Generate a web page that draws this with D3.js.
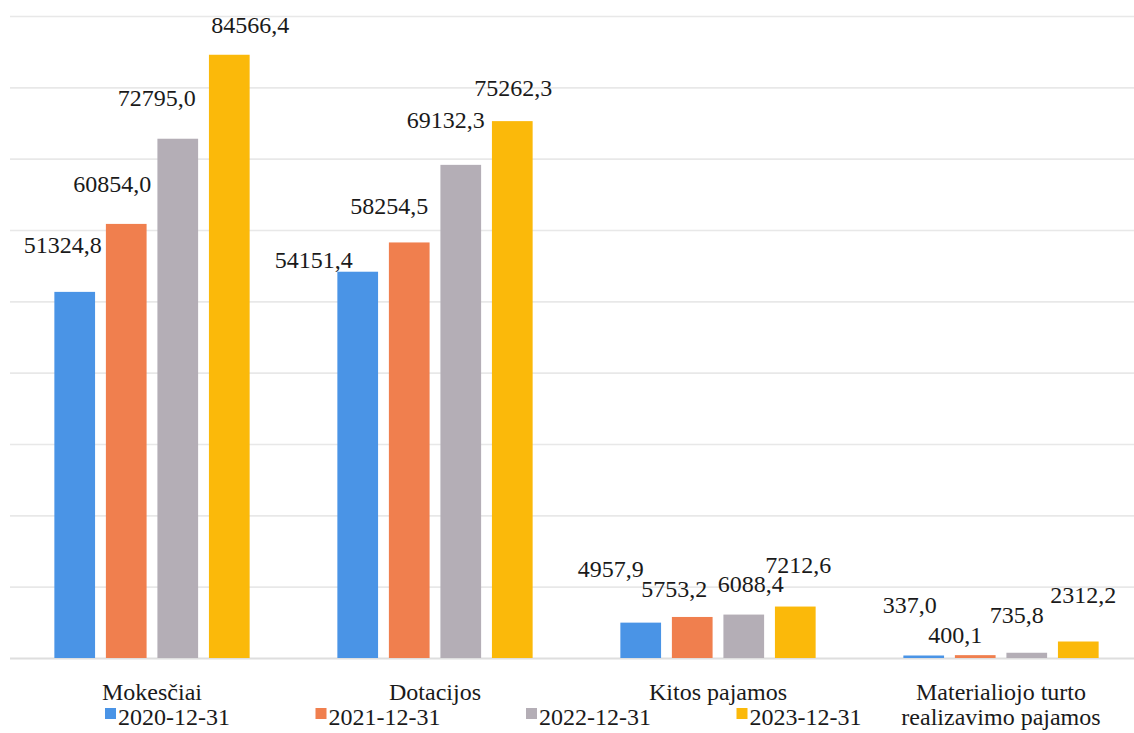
<!DOCTYPE html>
<html>
<head>
<meta charset="utf-8">
<script src="https://cdn.jsdelivr.net/npm/d3@7"></script>
<style>
  html, body { margin: 0; padding: 0; background: #ffffff; }
  svg { display: block; }
</style>
</head>
<body>
<svg id="chart" width="1134" height="733"></svg>
<script>
// ---- data ----
const categories = ["Mokesčiai", "Dotacijos", "Kitos pajamos", "Materialiojo turto realizavimo pajamos"];
const categoryLabels = [["Mokesčiai"], ["Dotacijos"], ["Kitos pajamos"], ["Materialiojo turto", "realizavimo pajamos"]];
const seriesNames = ["2020-12-31", "2021-12-31", "2022-12-31", "2023-12-31"];
const s2020 = [51324.8, 54151.4, 4957.9, 337.0];
const s2021 = [60854.0, 58254.5, 5753.2, 400.1];
const s2022 = [72795.0, 69132.3, 6088.4, 735.8];
const s2023 = [84566.4, 75262.3, 7212.6, 2312.2];
const seriesValues = [s2020, s2021, s2022, s2023];
const yTicks = [0, 10000, 20000, 30000, 40000, 50000, 60000, 70000, 80000, 90000];

// ---- style / layout ----
const FONT = "'Liberation Serif', 'Times New Roman', Times, 'DejaVu Serif', serif";
const FS = 24;
const colors = ["#4a94e6", "#f07f4e", "#b4aeb6", "#fbb90a"];
// label nudges (dx from bar centre, dy from bar top), as hand-placed in the original
const labelNudge = [
  [[-12, -39], [-44, -4], [-30, -46], [-14, -43]],
  [[-14, -32], [-20, -28], [-18, -20], [-20, -12]],
  [[-21, -33], [-15, -37], [7, -23], [-10, -30]],
  [[21, -22], [1, -25], [3, -34], [5, -39]]
];

const svg = d3.select("#chart").attr("font-family", FONT).style("font-family", FONT);
const fmt = v => v.toFixed(1).replace(".", ",");

const x0 = d3.scaleBand().domain(categories).range([10.5, 1142.5]).paddingInner(0.31).paddingOuter(0.155);
const x1 = d3.scaleBand().domain(seriesNames).range([0, x0.bandwidth()]).paddingInner(0.21).paddingOuter(0);
const y = d3.scaleLinear().domain([0, 90000]).range([658, 16]);

// gridlines
const yAxis = d3.axisLeft(y).tickValues(yTicks).tickSize(-1124).tickFormat("");
const g = svg.append("g").attr("transform", "translate(10,0)").call(yAxis);
g.select(".domain").remove();
g.selectAll(".tick line").attr("stroke", "#e8e8e8").attr("stroke-width", 1.6);
g.selectAll(".tick").filter(d => d === 0).select("line").attr("stroke", "#dedede").attr("stroke-width", 2);

// bars
const groups = svg.append("g").selectAll("g")
  .data(categories).join("g")
  .attr("transform", d => `translate(${x0(d)},0)`);

const cells = (d, ci) => seriesNames.map((s, si) => ({ s, si, ci, v: seriesValues[si][ci] }));
const minH = 2.5;

groups.selectAll("rect")
  .data(cells)
  .join("rect")
  .attr("x", d => x1(d.s))
  .attr("width", x1.bandwidth())
  .attr("y", d => Math.min(y(d.v), y(0) - minH))
  .attr("height", d => Math.max(minH, y(0) - y(d.v)))
  .attr("fill", d => colors[d.si]);

// value labels
groups.selectAll("text.val")
  .data(cells)
  .join("text")
  .attr("class", "val")
  .attr("x", d => x1(d.s) + x1.bandwidth() / 2 + labelNudge[d.si][d.ci][0])
  .attr("y", d => y(d.v) + labelNudge[d.si][d.ci][1])
  .attr("text-anchor", "middle")
  .attr("font-family", FONT)
  .attr("font-size", FS)
  .attr("fill", "#1a1a1a")
  .text(d => fmt(d.v));

// category labels
const cat = svg.append("g");
categories.forEach((c, i) => {
  const cx = x0(c) + x0.bandwidth() / 2;
  const t = cat.append("text")
    .attr("x", cx)
    .attr("y", 700)
    .attr("text-anchor", "middle")
    .attr("font-family", FONT)
    .attr("font-size", FS)
    .attr("fill", "#1a1a1a");
  categoryLabels[i].forEach((line, li) => {
    t.append("tspan").attr("x", cx).attr("dy", li === 0 ? 0 : 25).text(line);
  });
});

// legend
const legend = svg.append("g").attr("transform", "translate(105,0)");
const li = legend.selectAll("g").data(seriesNames).join("g")
  .attr("transform", (d, i) => `translate(${i * 210.5},0)`);
li.append("rect").attr("x", 0).attr("y", 708).attr("width", 11).attr("height", 11).attr("fill", (d, i) => colors[i]);
li.append("text").attr("x", 13).attr("y", 725)
  .attr("font-family", FONT).attr("font-size", FS).attr("fill", "#1a1a1a").text(d => d);
</script>
</body>
</html>
